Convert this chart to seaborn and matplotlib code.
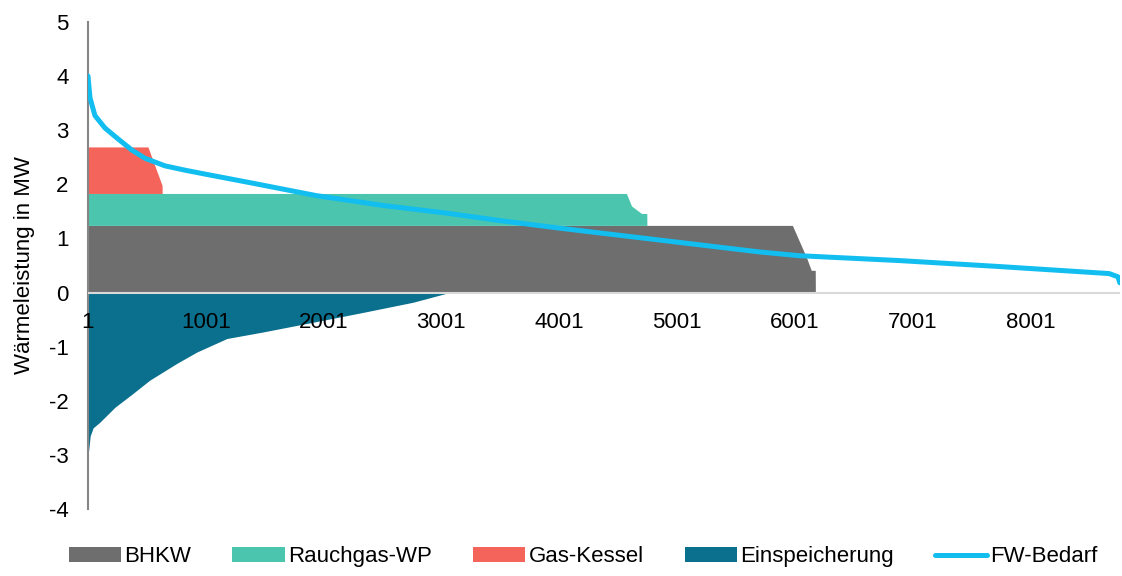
import numpy as np
import pandas as pd
import matplotlib
matplotlib.use("Agg")
import matplotlib.pyplot as plt
import seaborn as sns

# ============================
#   Data
# ============================
# stacked generation, common hour grid
stack_hours = [1, 510, 630, 631, 4572, 4615, 4700, 4745, 4746, 5981, 6100, 6141, 6175, 6176, 8760]
bhkw = [1.24, 1.24, 1.24, 1.24, 1.24, 1.24, 1.24, 1.24, 1.24, 1.24, 0.65, 0.41, 0.41, 0.0, 0.0]
rauchgas_wp = [0.59, 0.59, 0.59, 0.59, 0.59, 0.36, 0.22, 0.22, 0.0, 0.0, 0.0, 0.0, 0.0, 0.0, 0.0]
gas_kessel = [0.86, 0.86, 0.15, 0.0, 0.0, 0.0, 0.0, 0.0, 0.0, 0.0, 0.0, 0.0, 0.0, 0.0, 0.0]

# storage charging (negative)
st_hours = [1, 5, 20, 45, 100, 230, 380, 525, 755, 925, 1180, 1485, 1910, 2330, 2760, 3070]
einspeicherung = [-3.4, -2.95, -2.65, -2.5, -2.4, -2.12, -1.87, -1.62, -1.31, -1.1,
                  -0.85, -0.73, -0.55, -0.37, -0.18, 0.0]

# district heating demand (sorted duration curve)
fw_hours = [1, 18, 60, 145, 255, 375, 485, 655, 825, 990, 1375, 1940, 2500, 3070, 3495,
            4001, 4850, 5700, 6040, 6890, 7736, 8670, 8745, 8760]
fw_bedarf = [4.0, 3.6, 3.27, 3.04, 2.84, 2.63, 2.48, 2.34, 2.26, 2.19, 2.03, 1.79, 1.61,
             1.46, 1.33, 1.19, 0.97, 0.75, 0.68, 0.59, 0.48, 0.35, 0.29, 0.18]

x_ticks = [1, 1001, 2001, 3001, 4001, 5001, 6001, 7001, 8001]
y_ticks = [-4, -3, -2, -1, 0, 1, 2, 3, 4, 5]

colors = {
    "BHKW": "#6e6e6e",
    "Rauchgas-WP": "#4bc5ad",
    "Gas-Kessel": "#f5645a",
    "Einspeicherung": "#0b708e",
    "FW-Bedarf": "#12bdf0",
}

# ============================
#   Plot
# ============================
sns.set_style("white")
plt.rcParams["font.family"] = ["Liberation Sans", "DejaVu Sans"]
plt.rcParams["axes.unicode_minus"] = False
plt.rcParams["text.color"] = "black"
plt.rcParams["axes.labelcolor"] = "black"
plt.rcParams["xtick.color"] = "black"
plt.rcParams["ytick.color"] = "black"

fig = plt.figure(figsize=(11.22, 5.76), dpi=100)
ax = fig.add_axes([0.0784, 0.1163, 0.9196, 0.8457])
ax.set_axisbelow(False)

ax.stackplot(stack_hours, bhkw, rauchgas_wp, gas_kessel,
             colors=[colors["BHKW"], colors["Rauchgas-WP"], colors["Gas-Kessel"]],
             labels=["BHKW", "Rauchgas-WP", "Gas-Kessel"], linewidth=0)
ax.fill_between(st_hours, einspeicherung, 0, color=colors["Einspeicherung"],
                linewidth=0, label="Einspeicherung")

ax.axhline(0, color="#d9d9d9", linewidth=1.5, zorder=3)

fw_df = pd.DataFrame({"Stunde": fw_hours, "FW-Bedarf": fw_bedarf})
sns.lineplot(data=fw_df, x="Stunde", y="FW-Bedarf", ax=ax, color=colors["FW-Bedarf"],
             linewidth=3.6, label="FW-Bedarf", zorder=4, legend=False)

ax.set_xlim(1, 8760)
ax.set_ylim(-4, 5)
ax.set_xticks(x_ticks)
ax.set_xticklabels([str(t) for t in x_ticks])
ax.set_yticks(y_ticks)
ax.set_yticklabels([str(t) for t in y_ticks])
ax.tick_params(axis="both", length=0, labelsize=16, labelcolor="black")
ax.tick_params(axis="x", pad=14)
ax.tick_params(axis="y", pad=14)
for lbl in ax.get_xticklabels():
    lbl.set_zorder(5)

for s in ["top", "right"]:
    ax.spines[s].set_visible(False)
ax.spines["bottom"].set_position(("data", 0))
ax.spines["bottom"].set_visible(False)
ax.spines["left"].set_color("#868686")
ax.spines["left"].set_linewidth(1.5)

ax.set_xlabel("")
ax.set_ylabel("Wärmeleistung in MW", fontsize=16, labelpad=10, color="black")

handles, labels = ax.get_legend_handles_labels()
order = ["BHKW", "Rauchgas-WP", "Gas-Kessel", "Einspeicherung", "FW-Bedarf"]
hmap = dict(zip(labels, handles))
fig.legend([hmap[k] for k in order], order, loc="center", bbox_to_anchor=(0.52, 0.033),
           ncol=5, frameon=False, fontsize=16, handlelength=2.35, handleheight=0.65,
           handletextpad=0.15, columnspacing=1.85, labelcolor="black")

fig.savefig("out.png", dpi=100)
